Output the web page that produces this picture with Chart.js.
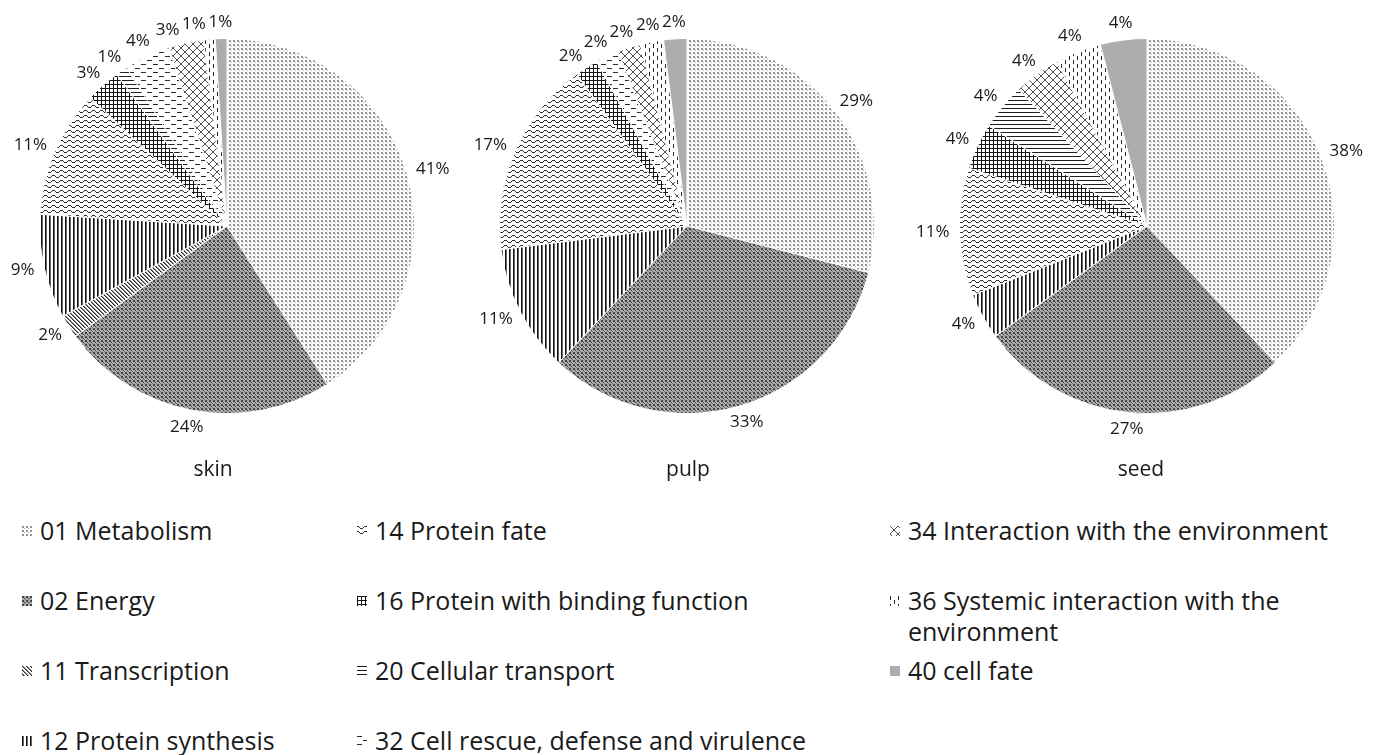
<!DOCTYPE html>
<html>
<head>
<meta charset="utf-8">
<title>Functional categories of proteins in skin, pulp and seed</title>
<script src="https://cdn.jsdelivr.net/npm/chart.js@4.4.0/dist/chart.umd.min.js"></script>
<style>
  html, body { margin: 0; padding: 0; background: #ffffff; }
  body { width: 1375px; height: 755px; position: relative; overflow: hidden;
         font-family: "Open Sans", "DejaVu Sans", sans-serif; color: #1a1a1a; }
  .pie { position: absolute; top: 0; }
  .ttl { position: absolute; top: 468px; font-size: 21px; transform: translate(-50%, -50%); white-space: nowrap; }
  .leg { position: absolute; font-size: 25px; line-height: 31px; display: flex; align-items: flex-start; white-space: nowrap; }
  .leg canvas { flex: none; margin-top: 11px; margin-right: 8px; }
  .leg span { display: block; }
</style>
</head>
<body>
<canvas id="pie0" class="pie" width="460" height="460"></canvas>
<canvas id="pie1" class="pie" width="460" height="460"></canvas>
<canvas id="pie2" class="pie" width="460" height="460"></canvas>
<div id="titles"></div>
<div id="legend"></div>

<script>
// Functional categories (MIPS FunCat), clockwise from 12 o'clock
const categories = [
  '01 Metabolism',
  '02 Energy',
  '11 Transcription',
  '12 Protein synthesis',
  '14 Protein fate',
  '16 Protein with binding function',
  '20 Cellular transport',
  '32 Cell rescue, defense and virulence',
  '34 Interaction with the environment',
  '36 Systemic interaction with the environment',
  '40 cell fate'
];

const tissues = ['skin', 'pulp', 'seed'];

// Share of identified proteins per category (%)
const skinValues = [41, 24, 2, 9, 11, 3, 1, 4, 3, 1, 1];
const pulpValues = [29, 33, 0, 11, 17, 2, 0, 2, 2, 2, 2];
const seedValues = [38, 27, 0, 4, 11, 4, 4, 0, 4, 4, 4];

const tissueValues = [skinValues, pulpValues, seedValues];

// ---- fill patterns (one per category) ----
function tile(w, h, draw) {
  const c = document.createElement('canvas');
  c.width = w; c.height = h;
  const g = c.getContext('2d');
  g.fillStyle = '#ffffff';
  g.fillRect(0, 0, w, h);
  draw(g);
  return c;
}
function px(g, col, x, y, w = 1, h = 1) { g.fillStyle = col; g.fillRect(x, y, w, h); }

const tileMakers = [
  // 01 light dotted
  () => tile(4, 4, g => { px(g, '#939393', 0, 0, 2, 2); px(g, '#b4b4b4', 2, 2); }),
  // 02 dense dotted
  () => tile(4, 4, g => { px(g, '#ababab', 0, 0, 4, 4); px(g, '#444444', 0, 0, 2, 2); px(g, '#3a3a3a', 2, 2); px(g, '#777777', 3, 3); }),
  // 11 diagonal lines
  () => tile(4, 4, g => { for (let i = 0; i < 4; i++) { px(g, '#2a2a2a', i, i); px(g, '#8a8a8a', (i + 1) % 4, i); } }),
  // 12 vertical lines
  () => tile(4, 1, g => { px(g, '#111111', 0, 0); px(g, '#666666', 1, 0); }),
  // 14 wave
  () => tile(8, 5, g => { const ys = [0, 0, 1, 2, 2, 2, 1, 0]; ys.forEach((y, x) => px(g, '#2e2e2e', x, y)); }),
  // 16 small grid
  () => tile(4, 4, g => { px(g, '#161616', 0, 0, 4, 1); px(g, '#161616', 0, 0, 1, 4); }),
  // 20 horizontal lines
  () => tile(1, 4, g => { px(g, '#1e1e1e', 0, 0); }),
  // 32 dashed horizontal
  () => tile(12, 8, g => { px(g, '#2a2a2a', 0, 0, 5, 1); px(g, '#2a2a2a', 6, 4, 5, 1); }),
  // 34 diagonal crosshatch
  () => tile(8, 8, g => { for (let i = 0; i < 8; i++) { px(g, '#505050', i, i); px(g, '#505050', i, 7 - i); } }),
  // 36 dashed vertical
  () => tile(8, 8, g => { px(g, '#2a2a2a', 0, 0, 1, 4); px(g, '#2a2a2a', 4, 4, 1, 4); }),
  // 40 solid grey
  () => tile(2, 2, g => { px(g, '#adadad', 0, 0, 2, 2); })
];

function patternsFor(ctx) {
  return tileMakers.map(m => ctx.createPattern(m(), 'repeat'));
}

// ---- percentage labels outside the slices ----
const LABEL_FONT = 17;
const pctLabels = {
  id: 'pctLabels',
  afterDatasetsDraw(chart) {
    const ctx = chart.ctx;
    const ds = chart.data.datasets[0];
    const meta = chart.getDatasetMeta(0);
    ctx.save();
    ctx.font = LABEL_FONT + 'px "Open Sans", "DejaVu Sans", sans-serif';
    ctx.fillStyle = '#1a1a1a';
    ctx.textAlign = 'center';
    ctx.textBaseline = 'middle';
    const items = [];
    meta.data.forEach((arc, i) => {
      const v = ds.data[i];
      if (!v) return;
      const p = arc.getProps(['x', 'y', 'startAngle', 'endAngle', 'outerRadius'], true);
      const text = v + '%';
      items.push({
        text, cx: p.x, cy: p.y, r: p.outerRadius,
        mid: (p.startAngle + p.endAngle) / 2,
        w: ctx.measureText(text).width, h: LABEL_FONT * 0.8
      });
    });
    const gap = 10;
    const place = it => {
      const c = Math.cos(it.mid), s = Math.sin(it.mid);
      it.x = it.cx + c * (it.r + gap) + c * it.w / 2;
      it.y = it.cy + s * (it.r + gap) + s * it.h / 2;
    };
    const overlap = (a, b) =>
      Math.abs(a.x - b.x) < (a.w + b.w) / 2 + 2 && Math.abs(a.y - b.y) < (a.h + b.h) / 2;
    items.sort((a, b) => b.mid - a.mid);
    items.forEach((it, i) => {
      place(it);
      let guard = 0;
      while (guard++ < 400 && items.slice(0, i).some(o => overlap(it, o))) {
        it.mid -= 0.004;
        place(it);
      }
      ctx.fillText(it.text, it.x, it.y);
    });
    ctx.restore();
  }
};

// ---- the three pies ----
const PIE_CENTERS_X = [227, 687, 1147];
const TITLE_X = [213, 688, 1141];

tissues.forEach((name, k) => {
  const canvas = document.getElementById('pie' + k);
  canvas.style.left = (PIE_CENTERS_X[k] - 230) + 'px';
  const ctx = canvas.getContext('2d');
  new Chart(ctx, {
    type: 'pie',
    data: {
      labels: categories,
      datasets: [{
        data: tissueValues[k],
        backgroundColor: patternsFor(ctx),
        borderColor: '#ffffff',
        borderWidth: 1
      }]
    },
    options: {
      responsive: false,
      animation: false,
      events: [],
      layout: { padding: { left: 42, right: 42, top: 38, bottom: 46 } },
      plugins: { legend: { display: false }, tooltip: { enabled: false } }
    },
    plugins: [pctLabels]
  });

  const t = document.createElement('div');
  t.className = 'ttl';
  t.style.left = TITLE_X[k] + 'px';
  t.textContent = name;
  document.getElementById('titles').appendChild(t);
});

// ---- legend: three columns, filled top to bottom ----
const LEGEND_COLS_X = [22, 357, 890];
const LEGEND_ROW_Y = [530, 600, 670, 740];
const legendHost = document.getElementById('legend');
categories.forEach((label, i) => {
  const col = Math.floor(i / 4), row = i % 4;
  const item = document.createElement('div');
  item.className = 'leg';
  item.style.left = LEGEND_COLS_X[col] + 'px';
  item.style.top = (LEGEND_ROW_Y[row] - 15.5) + 'px';
  const sw = document.createElement('canvas');
  sw.width = 10; sw.height = 10;
  const g = sw.getContext('2d');
  g.fillStyle = g.createPattern(tileMakers[i](), 'repeat');
  g.fillRect(0, 0, 10, 10);
  item.appendChild(sw);
  const txt = document.createElement('span');
  if (i === 9) {
    txt.innerHTML = '36 Systemic interaction with the<br>environment';
  } else {
    txt.textContent = label;
  }
  item.appendChild(txt);
  legendHost.appendChild(item);
});
</script>
</body>
</html>
